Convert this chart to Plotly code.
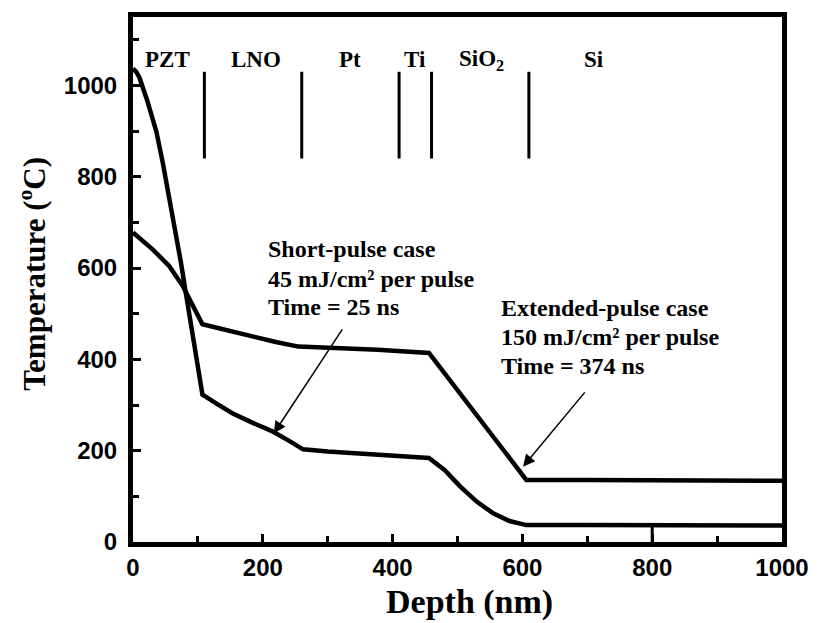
import plotly.graph_objects as go

# Short-pulse case (45 mJ/cm^2, 25 ns)
short_depth = [0, 5, 10, 15, 21, 28, 36, 46, 56, 74, 82, 95, 107, 130, 153, 183, 214, 240, 262, 300, 377, 420, 456, 480, 504, 530, 555, 580, 606, 700, 800, 900, 1000]
short_temp = [1037, 1030, 1017, 998, 971, 938, 899, 830, 755, 611, 540, 430, 323, 302, 282, 262, 243, 222, 203, 198, 192, 189, 184, 158, 122, 88, 63, 46, 37, 37, 36, 36, 36]

# Extended-pulse case (150 mJ/cm^2, 374 ns)
ext_depth = [0, 31, 56, 77, 107, 150, 184, 220, 255, 300, 377, 456, 606, 700, 800, 900, 1000]
ext_temp = [678, 640, 604, 560, 477, 462, 451, 438, 428, 426, 421, 414, 136, 136, 135, 134, 134]

# Layer boundaries and labels
layer_bounds = [110, 260, 410, 460, 610]
layer_names = ["PZT", "LNO", "Pt", "Ti", "SiO<sub>2</sub>", "Si"]
layer_label_x = [53, 189, 334, 434, 537, 710]

x_ticks = [0, 200, 400, 600, 800, 1000]
y_ticks = [0, 200, 400, 600, 800, 1000]

serif = "Liberation Serif"
sans = "Liberation Sans"

fig = go.Figure()
fig.add_trace(go.Scatter(x=short_depth, y=short_temp, mode="lines",
                         line=dict(color="black", width=4.5), showlegend=False))
fig.add_trace(go.Scatter(x=ext_depth, y=ext_temp, mode="lines",
                         line=dict(color="black", width=4.5), showlegend=False))

for b in layer_bounds:
    fig.add_shape(type="line", x0=b, x1=b, y0=840, y1=1030, xref="x", yref="y",
                  line=dict(color="black", width=3))

# long tick at 800 reaching lower curve
fig.add_shape(type="line", x0=800, x1=800, y0=0, y1=36, xref="x", yref="y",
              line=dict(color="black", width=3))

for name, lx in zip(layer_names, layer_label_x):
    fig.add_annotation(x=lx, y=1056, text=name, showarrow=False, xanchor="center", yanchor="middle",
                       font=dict(family=serif, size=23, color="black", weight="bold"))

tf = dict(family=serif, size=24, color="black", weight="bold")
short_lines = ["Short-pulse case", "45 mJ/cm² per pulse", "Time = 25 ns"]
short_y = [641, 577, 515]
for t, yy in zip(short_lines, short_y):
    fig.add_annotation(x=205, y=yy, text=t, showarrow=False, xanchor="left", yanchor="middle", font=tf)
ext_lines = ["Extended-pulse case", "150 mJ/cm² per pulse", "Time = 374 ns"]
ext_y = [513, 448, 386]
for t, yy in zip(ext_lines, ext_y):
    fig.add_annotation(x=564, y=yy, text=t, showarrow=False, xanchor="left", yanchor="middle", font=tf)

# arrows
fig.add_annotation(x=217, y=238, ax=324, ay=469, axref="x", ayref="y", xref="x", yref="y",
                   text="", showarrow=True, arrowhead=2, arrowsize=1.6, arrowwidth=1.5, arrowcolor="black")
fig.add_annotation(x=601, y=165, ax=698, ay=331, axref="x", ayref="y", xref="x", yref="y",
                   text="", showarrow=True, arrowhead=2, arrowsize=1.6, arrowwidth=1.5, arrowcolor="black")

# axis titles
fig.add_annotation(x=0.518, y=-0.115, xref="paper", yref="paper", text="Depth (nm)", showarrow=False,
                   xanchor="center", yanchor="middle",
                   font=dict(family=serif, size=34, color="black", weight="bold"))
fig.add_annotation(x=-0.154, y=0.511, xref="paper", yref="paper", text="Temperature (<sup>o</sup>C)",
                   showarrow=False, textangle=-90, xanchor="center", yanchor="middle",
                   font=dict(family=serif, size=31, color="black", weight="bold"))

fig.update_xaxes(range=[0, 1000], tickvals=x_ticks, ticks="inside", ticklen=8, tickwidth=3,
                 tickcolor="black", showline=True, linewidth=5, linecolor="black", mirror=True,
                 showgrid=False, zeroline=False,
                 minor=dict(ticks="inside", dtick=100, ticklen=6, tickwidth=3, tickcolor="black", showgrid=False),
                 tickfont=dict(family=sans, size=24, color="black", weight="bold"))
fig.update_yaxes(range=[0, 1150], tickvals=y_ticks, ticks="inside", ticklen=8, tickwidth=3,
                 tickcolor="black", showline=True, linewidth=5, linecolor="black", mirror=True,
                 showgrid=False, zeroline=False, ticklabelstandoff=6,
                 minor=dict(ticks="inside", dtick=100, ticklen=6, tickwidth=3, tickcolor="black", showgrid=False),
                 tickfont=dict(family=sans, size=24, color="black", weight="bold"))

fig.update_layout(width=821, height=623, margin=dict(l=133, r=33, t=16, b=81),
                  paper_bgcolor="white", plot_bgcolor="white")
fig.write_html("out.html")
